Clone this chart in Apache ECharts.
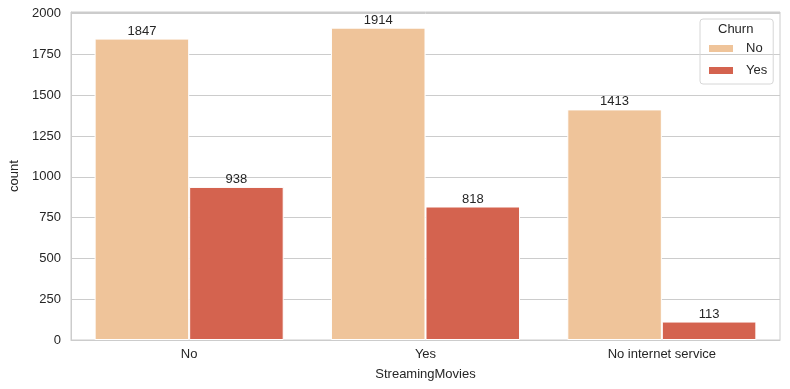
<!DOCTYPE html>
<html><head><meta charset="utf-8">
<script src="https://cdn.jsdelivr.net/npm/echarts@6/dist/echarts.min.js"></script>
<style>html,body{margin:0;padding:0;background:#fff;}#c{width:790px;height:389px;}</style>
</head><body><div id="c"></div>
<script>
const categories = ["No", "Yes", "No internet service"];
const churnNo = [1847, 1914, 1413];
const churnYes = [938, 818, 113];
const yTicks = [0, 250, 500, 750, 1000, 1250, 1500, 1750, 2000];

const font = "'Liberation Sans', Arial, sans-serif";
const txt = '#262626';
const fs = 13;
const chart = echarts.init(document.getElementById('c'), null, {renderer: 'canvas'});
const labelCfg = {show: true, position: 'top', distance: 1, color: txt, fontFamily: font, fontSize: fs};
chart.setOption({
  animation: false,
  textStyle: {fontFamily: font},
  grid: {left: 68, right: 10, top: 12, bottom: 49, show: true, borderColor: '#cccccc', borderWidth: 1, containLabel: false},
  xAxis: {
    type: 'category', data: categories,
    name: 'StreamingMovies', nameLocation: 'middle', nameGap: 28,
    nameTextStyle: {color: txt, fontSize: fs, fontFamily: font},
    axisLine: {show: true, lineStyle: {color: '#cccccc'}},
    axisTick: {show: false},
    axisLabel: {color: txt, fontSize: fs, fontFamily: font, margin: 8},
    splitLine: {show: false}
  },
  yAxis: {
    type: 'value', min: 0, max: 2010, interval: 250,
    name: 'count', nameLocation: 'middle', nameGap: 50, nameRotate: 90,
    nameTextStyle: {color: txt, fontSize: fs, fontFamily: font},
    axisLine: {show: true, lineStyle: {color: '#cccccc'}},
    axisTick: {show: false},
    axisLabel: {color: txt, fontSize: fs, fontFamily: font, margin: 10, showMaxLabel: false,
      formatter: v => yTicks.includes(v) ? String(v) : ''},
    splitLine: {show: true, lineStyle: {color: '#cccccc', width: 1}}
  },
  legend: {
    data: ['No', 'Yes'], orient: 'vertical', left: 700, top: 19,
    padding: [23, 6, 7, 7], itemWidth: 26, itemHeight: 9, itemGap: 9,
    icon: 'rect', borderColor: '#d6d6d6', borderWidth: 1, borderRadius: 3,
    textStyle: {color: txt, fontSize: fs, fontFamily: font, padding: [0, 0, 0, 7]}
  },
  graphic: [{type: 'text', left: 718, top: 23, style: {text: 'Churn', fill: txt, font: fs + 'px ' + font}}],
  series: [
    {name: 'No', type: 'bar', data: churnNo, barGap: '0%', barCategoryGap: '20%',
     itemStyle: {color: '#EFC49A', borderColor: '#ffffff', borderWidth: 1}, label: labelCfg},
    {name: 'Yes', type: 'bar', data: churnYes, barGap: '0%', barCategoryGap: '20%',
     itemStyle: {color: '#D4634F', borderColor: '#ffffff', borderWidth: 1}, label: labelCfg}
  ]
});
</script></body></html>
